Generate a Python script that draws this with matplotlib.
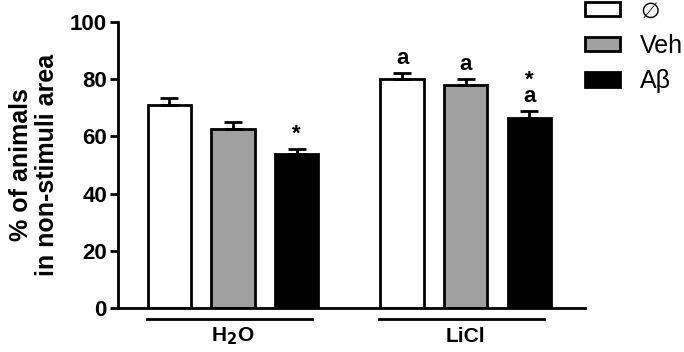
import matplotlib
matplotlib.use("Agg")
import matplotlib.pyplot as plt
from matplotlib.patches import Patch

plt.rcParams['font.family'] = ['Liberation Sans', 'DejaVu Sans']

GROUPS = ["H$_\\mathbf{2}$O", "LiCl"]
TREATMENTS = ["\u2205", "Veh", "A\u03b2"]
MEANS = [[71.0, 62.5, 54.0], [80.0, 78.0, 66.5]]
SEMS = [[2.5, 2.7, 1.5], [2.1, 2.1, 2.4]]
MARKS = [["", "", "*"], ["a", "a", "*\na"]]

COLORS = ["white", "#a0a0a0", "black"]
GROUP_CENTERS = [1.81, 5.47]
WIDTH = 0.68


def main():
    fig = plt.figure(figsize=(6.84, 3.52), dpi=100)
    ax = fig.add_axes([0.1725, 0.125, 0.683, 0.8125])

    for g, gc in enumerate(GROUP_CENTERS):
        for t in range(3):
            x = gc + (t - 1) * 1.0
            m = MEANS[g][t]
            e = SEMS[g][t]
            ax.bar(x, m, width=WIDTH, color=COLORS[t], edgecolor="black",
                   linewidth=2, zorder=2)
            ax.errorbar(x, m, yerr=[[0], [e]], fmt="none", ecolor="black",
                        elinewidth=2, capsize=6.5, capthick=2, zorder=3)
            if MARKS[g][t]:
                ax.text(x, m + e + 1.5, MARKS[g][t], ha="center", va="bottom",
                        fontsize=16, fontweight="bold", linespacing=0.7)
        # group underline and label
        ax.plot([gc - 1.36, gc + 1.24], [-3.9, -3.9], color="black",
                linewidth=2, clip_on=False)
        ax.text(gc, -10, GROUPS[g], ha="center", va="center", fontsize=15,
                fontweight="bold")

    ax.set_xlim(0, 7.35)
    ax.set_ylim(0, 100)
    ax.set_yticks([0, 20, 40, 60, 80, 100])
    ax.set_xticks([])
    for side in ["top", "right"]:
        ax.spines[side].set_visible(False)
    ax.spines["left"].set_linewidth(2)
    ax.spines["bottom"].set_linewidth(2)
    ax.tick_params(axis="y", direction="out", length=6, width=2, labelsize=16,
                   pad=2)
    for lbl in ax.get_yticklabels():
        lbl.set_fontweight("bold")
    ax.set_ylabel("% of animals\nin non-stimuli area", fontsize=18,
                  fontweight="bold", labelpad=8, linespacing=1.1)

    handles = [Patch(facecolor=c, edgecolor="black", linewidth=2)
               for c in COLORS]
    leg = ax.legend(handles, TREATMENTS, loc="upper left",
                    bbox_to_anchor=(1.0, 1.07), frameon=False, fontsize=18,
                    handlelength=1.4, handleheight=0.5, handletextpad=0.8,
                    labelspacing=0.45, borderaxespad=0, borderpad=0)
    # the empty-set glyph is thinner / lighter in the reference
    leg.get_texts()[0].set_fontsize(16)

    fig.savefig("out.png", dpi=100)


if __name__ == "__main__":
    main()
